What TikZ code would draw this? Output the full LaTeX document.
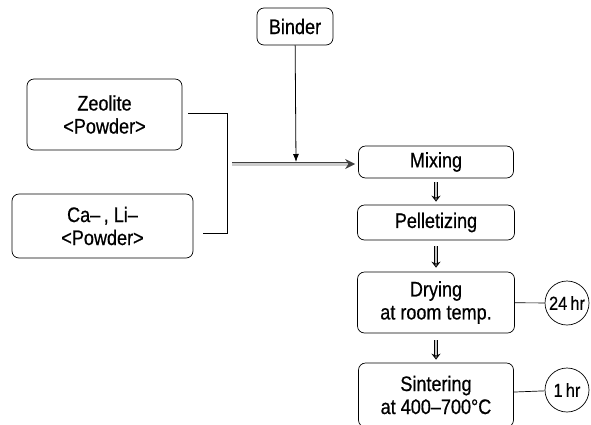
\documentclass[tikz,border=0pt]{standalone}
\usepackage{fontspec}
\setmainfont{Liberation Sans}[FakeStretch=0.86, FakeBold=0.6]
\usetikzlibrary{positioning, arrows.meta, shapes.geometric}
\tikzset{
	procbox/.style={
			rectangle,
			rounded corners=7pt,
			draw=black,
			line width=0.7pt,
			align=center,
			inner sep=0pt,
			font=\fontsize{21}{23}\selectfont
		},
	timenode/.style={
			circle,
			draw=black,
			line width=0.7pt,
			minimum size=44pt,
			inner sep=0pt,
			font=\fontsize{19}{20}\selectfont
		},
	smallarrow/.style={
			draw=black,
			line width=1pt,
			double=gray!45,
			double distance=2pt,
			-{Stealth[open, length=6pt, width=9pt]}
		},
	feedarrow/.style={
			draw=gray!50!black,
			line width=0.6pt,
			double=gray!40,
			double distance=3pt,
			-{Stealth[length=10pt, width=10pt]}
		}
}

\begin{document}
\begin{tikzpicture}[x=1pt, y=-1pt]
\useasboundingbox (0,0) rectangle (591,424);
\node[procbox, minimum width=155pt, minimum height=71pt] (n1) at (104.5,114.5) {Zeolite\\<Powder>};
\node[procbox, minimum width=181pt, minimum height=64pt] (n2) at (102.5,226) {Ca–\,, Li–\\<Powder>};
\node[procbox, minimum width=76pt, minimum height=37pt] (n3) at (295,26.5) {Binder};
\node[procbox, minimum width=155pt, minimum height=32pt] (n4) at (436,162) {Mixing};
\node[procbox, minimum width=157pt, minimum height=35pt] (n5) at (436,222.5) {Pelletizing};
\node[procbox, minimum width=157pt, minimum height=61pt] (n6) at (436,302.5) {Drying\\at room temp.};
\node[procbox, minimum width=155pt, minimum height=64pt] (n7) at (436,395) {Sintering\\at 400–700°C};
\node[timenode] (t1) at (567,303) {24\,hr};
\node[timenode] (t2) at (567,390) {1\,hr};

\coordinate (b1) at (227,113);
\coordinate (m0) at (232,164);
\coordinate (m1) at (296,162);

% powders into the mixer
\draw[line width=0.7pt] ([xshift=6pt]n1.east |- b1) -- (b1) |- ([xshift=10pt]n2.east |- 0,233);
\draw[feedarrow, shorten >=3pt] (m0) -- (m0 -| n4.west);
\draw[line width=0.8pt, -{Latex[length=8pt, width=6pt]}] (n3) -- (m1);

% process steps
\draw[smallarrow, shorten <=4pt, shorten >=3pt] (n4) -- (n5);
\draw[smallarrow, shorten <=6pt, shorten >=4pt] (n5) -- (n6);
\draw[smallarrow, shorten <=7pt, shorten >=3pt] (n6) -- (n7);

\draw[line width=0.7pt] (n6) -- (t1);
\draw[line width=0.7pt] (n7) -- (t2);
\end{tikzpicture}
\end{document}
